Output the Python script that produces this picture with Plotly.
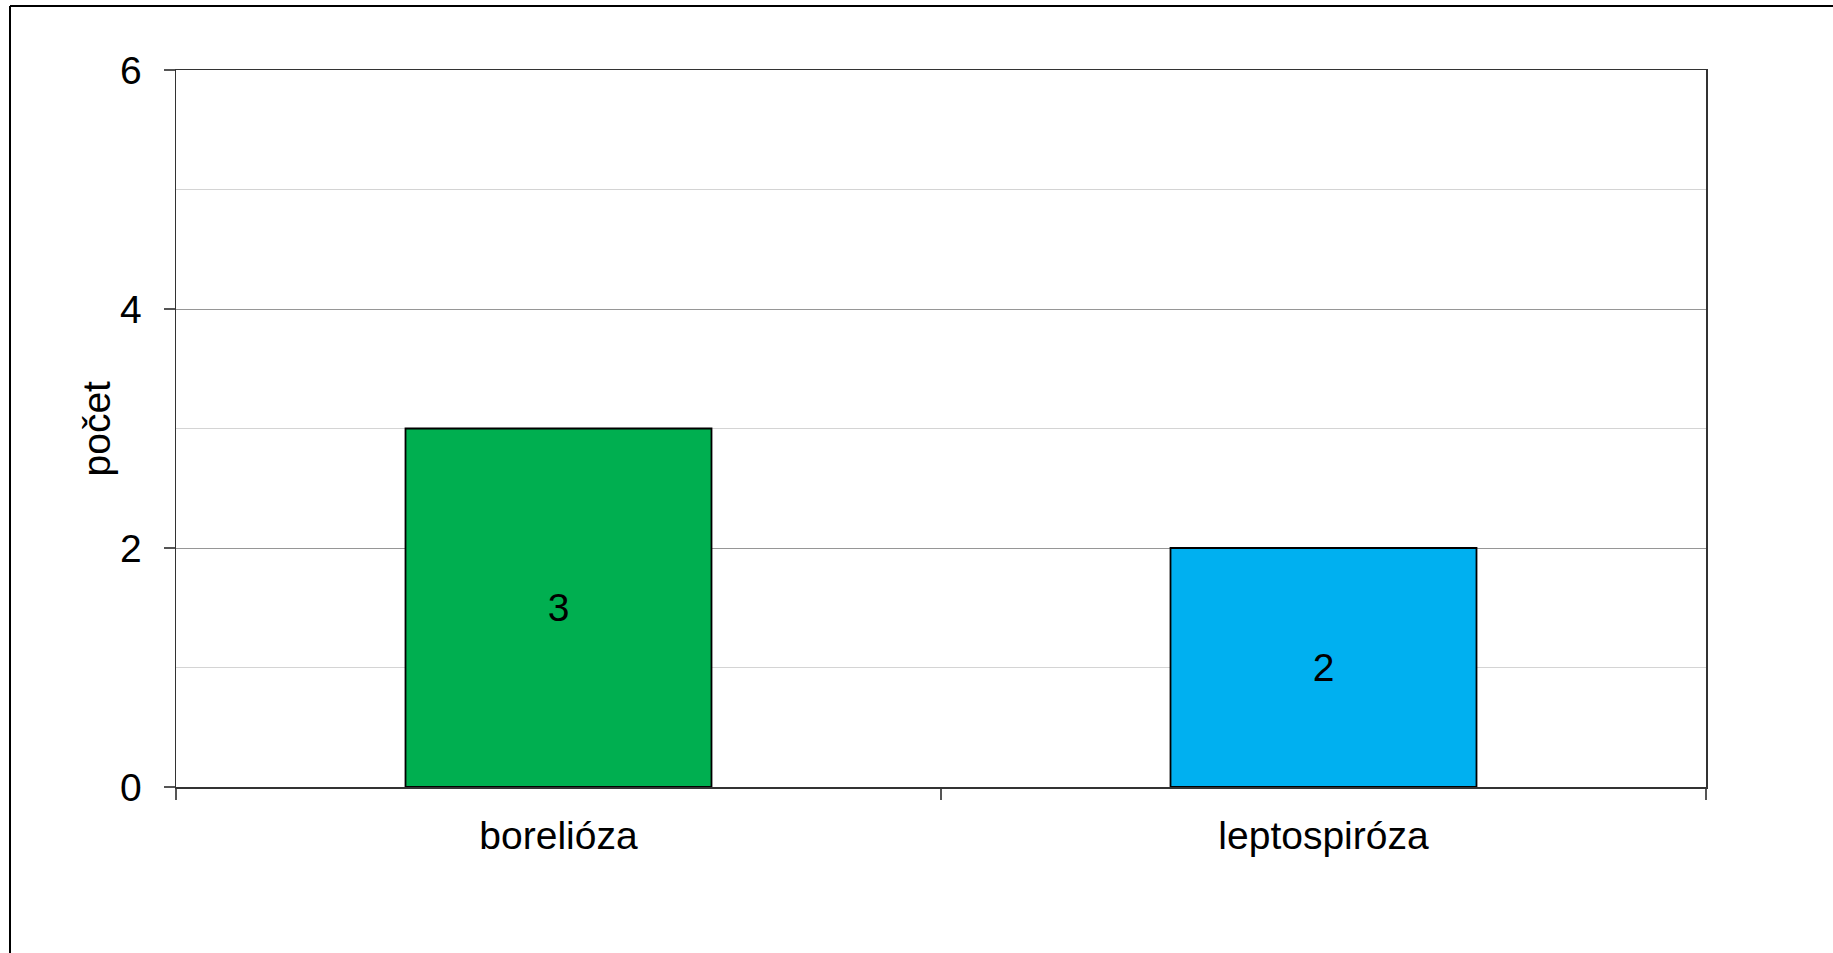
import plotly.graph_objects as go

categories = ["borelióza", "leptospiróza"]
values = [3, 2]
bar_colors = ["#00AF50", "#00B0F0"]
y_tick_values = [0, 2, 4, 6]
y_title = "počet"

FONT = "Liberation Sans, Arial, sans-serif"

W, H = 1833, 953
L, R, T, B = 176, 127, 70, 166
PW, PH = W - L - R, H - T - B

fig = go.Figure()
fig.add_trace(go.Bar(
    x=categories,
    y=values,
    marker=dict(color=bar_colors, line=dict(color="#000000", width=1.8)),
    text=[str(v) for v in values],
    textposition="inside",
    insidetextanchor="middle",
    textfont=dict(family=FONT, size=39, color="#000000"),
    showlegend=False,
    hoverinfo="skip",
))

frame_x = (10 - L) / PW
frame_y = (H - 6 - B) / PH

fig.update_layout(
    width=W,
    height=H,
    margin=dict(l=L, r=R, t=T, b=B),
    paper_bgcolor="#ffffff",
    plot_bgcolor="#ffffff",
    bargap=0.6,
    font=dict(family=FONT, size=39, color="#000000"),
    shapes=[
        dict(type="line", xref="paper", yref="paper",
             x0=frame_x, x1=1.2, y0=frame_y, y1=frame_y,
             line=dict(color="#000000", width=2)),
        dict(type="line", xref="paper", yref="paper",
             x0=frame_x, x1=frame_x, y0=frame_y, y1=-0.3,
             line=dict(color="#000000", width=2)),
    ],
    annotations=[
        dict(text=y_title, xref="paper", yref="paper",
             x=(96 - L) / PW, y=0.5, xanchor="center", yanchor="middle",
             textangle=-90, showarrow=False,
             font=dict(family=FONT, size=39, color="#000000")),
    ],
)

fig.update_xaxes(
    type="category",
    showline=True, linecolor="#333333", linewidth=1.5, mirror=True,
    ticks="outside", tickson="boundaries", ticklen=11, tickcolor="#555555", tickwidth=1.5,
    showgrid=False,
    tickfont=dict(family=FONT, size=39, color="#000000"),
    ticklabelstandoff=14,
)

fig.update_yaxes(
    range=[0, 6],
    tickvals=y_tick_values,
    showline=True, linecolor="#333333", linewidth=1.5, mirror=True,
    ticks="outside", ticklen=11, tickcolor="#555555", tickwidth=1.5,
    showgrid=True, gridcolor="#969696", gridwidth=1,
    minor=dict(dtick=1, showgrid=True, gridcolor="#d4d4d4", gridwidth=1, ticks=""),
    zeroline=False,
    tickfont=dict(family=FONT, size=39, color="#000000"),
    ticklabelstandoff=14,
    automargin=False,
)

fig.write_html(
    "out.html",
    config={"displayModeBar": False, "staticPlot": True},
    post_script="document.body.style.margin='0';document.body.style.overflow='hidden';",
)
